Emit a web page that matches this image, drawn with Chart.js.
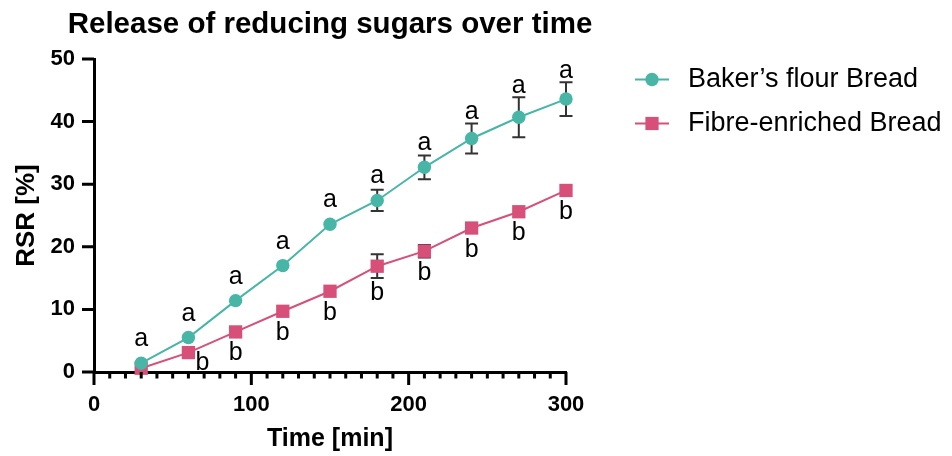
<!DOCTYPE html>
<html><head><meta charset="utf-8">
<script src="https://cdn.jsdelivr.net/npm/chart.js@4.4.0/dist/chart.umd.min.js"></script>
<style>html,body{margin:0;padding:0;background:#fff}#wrap{width:952px;height:456px;position:relative}</style>
</head><body><div id="wrap"><canvas id="c"></canvas></div>
<script>
const times = [30, 60, 90, 120, 150, 180, 210, 240, 270, 300];
const bakerMean = [1.4, 5.5, 11.4, 17.0, 23.6, 27.4, 32.7, 37.3, 40.7, 43.6];
const bakerSD   = [0, 0, 0, 0, 0, 1.7, 1.9, 2.4, 3.2, 2.7];
const fibreMean = [0.6, 3.1, 6.4, 9.7, 12.9, 16.9, 19.3, 23.0, 25.6, 29.0];
const fibreSD   = [0, 0, 0, 0, 0, 1.9, 1.0, 0, 0, 0];
const bakerLetters = ['a','a','a','a','a','a','a','a','a','a'];
const fibreLetters = ['','b','b','b','b','b','b','b','b','b'];
const seriesNames = ['Baker\u2019s flour Bread', 'Fibre-enriched Bread'];
const xTickLabels = ['0', '100', '200', '300'];
const yTickLabels = ['0', '10', '20', '30', '40', '50'];
const chartTitle = 'Release of reducing sugars over time';

const TEAL = '#47b6a6';
const PINK = '#d6507a';
const FONT = "'Liberation Sans', Arial, Helvetica, sans-serif";
Chart.defaults.font.family = FONT;
Chart.defaults.color = '#000';

const sdSets = [bakerSD, fibreSD];
const meanSets = [bakerMean, fibreMean];

const titlePlugin = {
  id: 'wideTitle',
  afterDraw(chart) {
    const ctx = chart.ctx, a = chart.chartArea;
    ctx.save();
    ctx.font = 'bold 29.5px ' + FONT;
    ctx.fillStyle = '#000';
    ctx.textAlign = 'center';
    ctx.textBaseline = 'alphabetic';
    ctx.fillText(chartTitle, (a.left + a.right) / 2, 33.3);
    ctx.restore();
  }
};

const errorBarPlugin = {
  id: 'errorBars',
  beforeDatasetsDraw(chart) {
    const ctx = chart.ctx, xs = chart.scales.x, ys = chart.scales.y;
    ctx.save();
    ctx.strokeStyle = '#333';
    ctx.lineWidth = 2;
    for (let i = 0; i < 2; i++) {
      for (let j = 0; j < times.length; j++) {
        if (!sdSets[i][j]) continue;
        const x = xs.getPixelForValue(times[j]);
        const t = ys.getPixelForValue(meanSets[i][j] + sdSets[i][j]);
        const b = ys.getPixelForValue(meanSets[i][j] - sdSets[i][j]);
        ctx.beginPath();
        ctx.moveTo(x, t); ctx.lineTo(x, b);
        ctx.moveTo(x - 6.5, t); ctx.lineTo(x + 6.5, t);
        ctx.moveTo(x - 6.5, b); ctx.lineTo(x + 6.5, b);
        ctx.stroke();
      }
    }
    ctx.restore();
  }
};

const letterPlugin = {
  id: 'letters',
  afterDatasetsDraw(chart, args, opts) {
    const ctx = chart.ctx, xs = chart.scales.x, ys = chart.scales.y;
    ctx.save();
    ctx.font = '25px ' + FONT;
    ctx.fillStyle = '#000';
    ctx.textAlign = 'center';
    ctx.textBaseline = 'alphabetic';
    for (let j = 0; j < times.length; j++) {
      const x = xs.getPixelForValue(times[j]);
      if (bakerLetters[j]) {
        const c = ys.getPixelForValue(bakerMean[j]);
        const et = ys.getPixelForValue(bakerMean[j] + bakerSD[j]);
        const bottom = Math.min(et - 4, c - 17);
        ctx.fillText(bakerLetters[j], x, bottom);
      }
      if (fibreLetters[j]) {
        const c = ys.getPixelForValue(fibreMean[j]);
        const eb = ys.getPixelForValue(fibreMean[j] - fibreSD[j]);
        let top = Math.max(eb + 4, c + 10.5);
        let dx = 0;
        const sh = opts.shift && opts.shift[j];
        if (sh) { dx = sh[0]; top += sh[1]; }
        ctx.fillText(fibreLetters[j], x + dx, top + 18);
      }
    }
    ctx.restore();
  }
};

const tickPlugin = {
  id: 'axisTicks',
  afterDraw(chart) {
    const ctx = chart.ctx, xs = chart.scales.x, ys = chart.scales.y;
    ctx.save();
    ctx.strokeStyle = '#000';
    ctx.lineWidth = 3;
    ctx.beginPath();
    ys.ticks.forEach(t => {
      const y = ys.getPixelForValue(t.value);
      ctx.moveTo(ys.right - 12, y); ctx.lineTo(ys.right, y);
    });
    xs.ticks.forEach(t => {
      const x = xs.getPixelForValue(t.value);
      const len = (t.value % 100 === 0) ? 13 : 6.5;
      ctx.moveTo(x, xs.top); ctx.lineTo(x, xs.top + len);
    });
    ctx.stroke();
    ctx.restore();
  }
};

const legendPlugin = {
  id: 'customLegend',
  afterDraw(chart) {
    const ctx = chart.ctx;
    const rows = [79.5, 123.5];
    ctx.save();
    chart.data.datasets.forEach((ds, i) => {
      const y = rows[i];
      ctx.strokeStyle = ds.borderColor;
      ctx.lineWidth = 2;
      ctx.beginPath(); ctx.moveTo(635, y); ctx.lineTo(669, y); ctx.stroke();
      ctx.fillStyle = ds.backgroundColor;
      if (ds.pointStyle === 'circle') {
        ctx.beginPath(); ctx.arc(652, y, 6.7, 0, Math.PI * 2); ctx.fill();
      } else {
        ctx.fillRect(652 - 6.6, y - 6.6, 13.2, 13.2);
      }
      ctx.fillStyle = '#000';
      ctx.font = '27px ' + FONT;
      ctx.textBaseline = 'middle';
      ctx.textAlign = 'left';
      ctx.fillText(ds.label, 688, y);
    });
    ctx.restore();
  }
};

new Chart(document.getElementById('c'), {
  type: 'line',
  data: {
    datasets: [
      {
        label: seriesNames[0],
        data: times.map((t, i) => ({x: t, y: bakerMean[i]})),
        borderColor: TEAL, backgroundColor: TEAL, borderWidth: 2,
        pointStyle: 'circle', pointRadius: 6.7, pointBorderWidth: 0,
        pointHoverRadius: 6.7, clip: false, tension: 0
      },
      {
        label: seriesNames[1],
        data: times.map((t, i) => ({x: t, y: fibreMean[i]})),
        borderColor: PINK, backgroundColor: PINK, borderWidth: 2,
        pointStyle: 'rect', pointRadius: 9.4, pointBorderWidth: 0,
        pointHoverRadius: 9.4, clip: false, tension: 0
      }
    ]
  },
  options: {
    responsive: true, maintainAspectRatio: false, animation: false,
    events: [],
    layout: { padding: { left: 0, right: 386, top: 59, bottom: 0 } },
    plugins: {
      legend: { display: false },
      tooltip: { enabled: false },
      title: { display: false },
      letters: { shift: { 1: [14, -11] } }
    },
    scales: {
      x: {
        type: 'linear', min: 0, max: 300,
        grid: { display: false, drawTicks: false, tickLength: 0 },
        border: { display: true, color: '#000', width: 3 },
        ticks: {
          stepSize: 10, autoSkip: false, maxRotation: 0, padding: 20,
          font: { size: 22, weight: 'bold' }, color: '#000',
          callback: (v) => (v % 100 === 0 ? xTickLabels[v / 100] : '')
        },
        title: {
          display: true, text: 'Time [min]', color: '#000',
          font: { size: 25, weight: 'bold' }, padding: { top: 0, bottom: 2 }
        },
        afterFit(s) { s.height = 84; }
      },
      y: {
        type: 'linear', min: 0, max: 50,
        grid: { display: false, drawTicks: false, tickLength: 0 },
        border: { display: true, color: '#000', width: 3 },
        ticks: {
          stepSize: 10, padding: 19,
          font: { size: 22, weight: 'bold' }, color: '#000',
          callback: (v) => yTickLabels[v / 10]
        },
        title: {
          display: true, text: 'RSR [%]', color: '#000',
          font: { size: 26, weight: 'bold' }, padding: { top: 11.4, bottom: 0 }
        },
        afterFit(s) { s.width = 94; }
      }
    }
  },
  plugins: [titlePlugin, errorBarPlugin, letterPlugin, tickPlugin, legendPlugin]
});
</script>
</body></html>
